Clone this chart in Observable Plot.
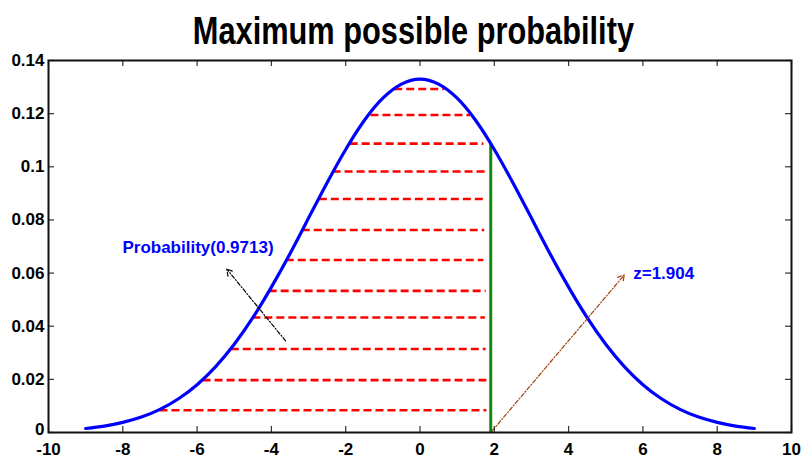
<!DOCTYPE html>
<html>
<head>
<meta charset="utf-8">
<script src="https://cdn.jsdelivr.net/npm/d3@7"></script>
<script src="https://cdn.jsdelivr.net/npm/@observablehq/plot@0.6"></script>
<style>
  body { margin: 0; background: #fff; font-family: "Liberation Sans", Arial, sans-serif; }
  #title { height: 38px; padding-top: 12px; padding-left: 25px; width: 776px; text-align: center;
           font-size: 38px; line-height: 38px; font-weight: bold; color: #000; white-space: nowrap; }
  #title span { display: inline-block; transform: scaleX(0.81); transform-origin: center; }
</style>
</head>
<body>
<div id="title"><span>Maximum possible probability</span></div>
<div id="chart"></div>
<script>
// Curve
const curveX = [-9,-8.5,-8,-7.5,-7,-6.5,-6,-5.5,-5,-4.5,-4,-3.5,-3,-2.5,-2,-1.5,-1,-0.5,0,0.5,1,1.5,2,2.5,3,3.5,4,4.5,5,5.5,6,6.5,7,7.5,8,8.5,9];
const curveY = [0.0015,0.0024,0.0038,0.0058,0.0087,0.0127,0.0180,0.0248,0.0332,0.0432,0.0547,0.0673,0.0807,0.0940,0.1065,0.1174,0.1258,0.1311,0.1330,0.1311,0.1258,0.1174,0.1065,0.0940,0.0807,0.0673,0.0547,0.0432,0.0332,0.0248,0.0180,0.0127,0.0087,0.0058,0.0038,0.0024,0.0015];

// Dashed level lines
const levelY  = [0.1293,0.1195,0.1087,0.0982,0.0879,0.0762,0.0649,0.0533,0.0433,0.0314,0.0197,0.0084];
const levelX1 = [-0.68,-1.32,-1.88,-2.34,-2.71,-3.17,-3.60,-4.06,-4.50,-5.08,-5.84,-7.00];
const levelX2 = [0.66,1.36,1.72,1.78,1.78,1.74,1.72,1.78,1.76,1.78,1.80,1.80];

// z line
const zValue = 1.904;
const zTop = 0.1087;

// Annotations
const labelText = ["Probability(0.9713)", "z=1.904"];
const labelX = [-8.01, 5.74];
const labelY = [0.0696, 0.0598];
const arrowX1 = [-3.62, 1.94];
const arrowY1 = [0.0345, 0.0006];
const arrowX2 = [-5.20, 5.50];
const arrowY2 = [0.0615, 0.0593];
const arrowColor = ["#000000", "#a0400a"];

// Ticks
const xTicks = [-10,-8,-6,-4,-2,0,2,4,6,8,10];
const xTickLabels = ["-10","-8","-6","-4","-2","0","2","4","6","8","10"];
const yTicks = [0,0.02,0.04,0.06,0.08,0.1,0.12,0.14];
const yTickLabels = ["0","0.02","0.04","0.06","0.08","0.1","0.12","0.14"];

const curve = curveX.map((x, i) => ({x, y: curveY[i]}));
const levels = levelY.map((y, i) => ({y, x1: levelX1[i], x2: levelX2[i]}));
const labels = labelText.map((t, i) => ({t, x: labelX[i], y: labelY[i]}));
const arrows = arrowX1.map((x1, i) => ({x1, y1: arrowY1[i], x2: arrowX2[i], y2: arrowY2[i], c: arrowColor[i]}));

const W = 801, H = 408, mL = 48, mR = 10, mT = 10, mB = 26;
const fw = W - mL - mR, fh = H - mT - mB, tl = 6;
const yFmt = d => yTickLabels[yTicks.indexOf(d)];

const plot = Plot.plot({
  width: W, height: H,
  marginLeft: mL, marginRight: mR, marginTop: mT, marginBottom: mB,
  x: {domain: [-10, 10]},
  y: {domain: [0, 0.14]},
  style: {fontFamily: "'Liberation Sans', Arial, sans-serif", fontSize: "17px", fontWeight: "bold", background: "#fff", color: "#000", overflow: "visible"},
  marks: [
    Plot.ruleY(levels, {y: "y", x1: "x1", x2: "x2", stroke: "#ff0000", strokeWidth: 2.6, strokeDasharray: "8,4"}),
    Plot.ruleX([zValue], {x: d => d, y1: 0, y2: zTop, stroke: "#118a11", strokeWidth: 3}),
    Plot.line(curve, {x: "x", y: "y", stroke: "#0000ff", strokeWidth: 3.2, curve: "natural"}),
    Plot.arrow(arrows, {x1: "x1", y1: "y1", x2: "x2", y2: "y2", stroke: "c", strokeWidth: 1.2, strokeDasharray: "4,2,1,2", headLength: 9}),
    Plot.text(labels, {x: "x", y: "y", text: "t", fill: "#0000ff", textAnchor: "start", fontSize: 17, fontWeight: "bold"}),
    // inward ticks
    Plot.tickX(xTicks, {x: d => d, insetTop: fh - tl, stroke: "#333", strokeWidth: 1.2}),
    Plot.tickX(xTicks, {x: d => d, insetBottom: fh - tl, stroke: "#333", strokeWidth: 1.2}),
    Plot.tickY(yTicks, {y: d => d, insetRight: fw - tl, stroke: "#333", strokeWidth: 1.2}),
    Plot.tickY(yTicks, {y: d => d, insetLeft: fw - tl, stroke: "#333", strokeWidth: 1.2}),
    Plot.axisX({ticks: xTicks, tickFormat: d => xTickLabels[xTicks.indexOf(d)], tickSize: 0, tickPadding: 10, label: null, fontSize: 17, fontWeight: "bold"}),
    Plot.axisY({ticks: yTicks.filter(d => d !== 0), tickFormat: yFmt, tickSize: 0, tickPadding: 4, label: null, fontSize: 17, fontWeight: "bold"}),
    Plot.axisY({ticks: [0], tickFormat: yFmt, tickSize: 0, tickPadding: 4, dy: -3, label: null, fontSize: 17, fontWeight: "bold"}),
    Plot.frame({stroke: "#111", strokeWidth: 2})
  ]
});
document.getElementById("chart").appendChild(plot);
</script>
</body>
</html>
